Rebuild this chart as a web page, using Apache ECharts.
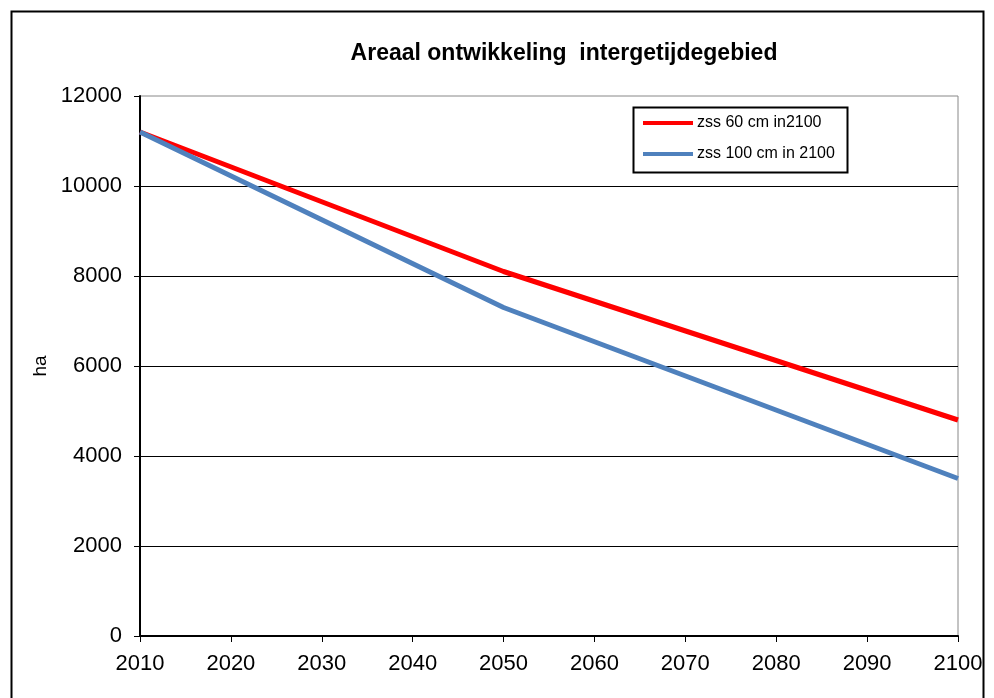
<!DOCTYPE html>
<html><head><meta charset="utf-8">
<script src="https://cdn.jsdelivr.net/npm/echarts@6/dist/echarts.min.js"></script>
<style>html,body{margin:0;padding:0;background:#fff}#c{width:994px;height:698px}</style>
</head><body><div id="c"></div>
<script>
const years = [2010, 2050, 2100];
const zss60 = [11200, 8100, 4800];
const zss100 = [11200, 7300, 3500];
const seriesNames = ['zss 60 cm in2100', 'zss 100 cm in 2100'];
const xTicks = [2010, 2100, 10];
const yTicks = [0, 12000, 2000];

const chart = echarts.init(document.getElementById('c'));
const font = 'Liberation Sans, Arial, sans-serif';
chart.setOption({
  animation: false,
  title: { text: 'Areaal ontwikkeling  intergetijdegebied', left: 559, top: 37, textAlign: 'center',
    textStyle: { fontFamily: font, fontSize: 23, fontWeight: 'bold', color: '#000' } },
  grid: { left: 140, right: 36, top: 96, bottom: 62, show: true, borderColor: '#888', borderWidth: 1, backgroundColor: 'transparent' },
  legend: { show: false },
  graphic: [
    { type: 'rect', shape: { x: 11.5, y: 11.5, width: 972, height: 720 }, style: { fill: 'none', stroke: '#000', lineWidth: 2 }, z: -1 },
    { type: 'rect', shape: { x: 633.5, y: 107.5, width: 214, height: 65 }, style: { fill: '#fff', stroke: '#000', lineWidth: 2 }, z: 10 },
    { type: 'line', shape: { x1: 643, y1: 123, x2: 693, y2: 123 }, style: { stroke: '#FF0000', lineWidth: 4 }, z: 11 },
    { type: 'text', style: { x: 697, y: 123, text: seriesNames[0], font: '16px ' + font, fill: '#000', textVerticalAlign: 'middle' }, z: 11 },
    { type: 'line', shape: { x1: 643, y1: 154, x2: 693, y2: 154 }, style: { stroke: '#4F81BD', lineWidth: 4 }, z: 11 },
    { type: 'text', style: { x: 697, y: 154, text: seriesNames[1], font: '16px ' + font, fill: '#000', textVerticalAlign: 'middle' }, z: 11 }
  ],
  xAxis: {
    type: 'value', min: xTicks[0], max: xTicks[1], interval: xTicks[2],
    axisLine: { lineStyle: { color: '#000', width: 2 } },
    axisTick: { show: true, length: 6, lineStyle: { color: '#000' } },
    axisLabel: { fontFamily: font, fontSize: 22, color: '#000', margin: 17, formatter: v => String(v) },
    splitLine: { show: false }
  },
  yAxis: {
    type: 'value', min: yTicks[0], max: yTicks[1], interval: yTicks[2],
    name: 'ha', nameLocation: 'middle', nameGap: 90, nameRotate: 90,
    nameTextStyle: { fontFamily: font, fontSize: 19, color: '#000' },
    axisLine: { show: true, lineStyle: { color: '#000', width: 2 } },
    axisTick: { show: true, length: 6, lineStyle: { color: '#000' } },
    axisLabel: { fontFamily: font, fontSize: 22, color: '#000', margin: 18, formatter: v => String(v) },
    splitLine: { show: true, showMaxLine: false, lineStyle: { color: '#000', width: 1 } }
  },
  series: [
    { name: seriesNames[0], type: 'line', data: years.map((y, i) => [y, zss60[i]]), showSymbol: false,
      lineStyle: { color: '#FF0000', width: 5 }, itemStyle: { color: '#FF0000' }, z: 3 },
    { name: seriesNames[1], type: 'line', data: years.map((y, i) => [y, zss100[i]]), showSymbol: false,
      lineStyle: { color: '#4F81BD', width: 5 }, itemStyle: { color: '#4F81BD' }, z: 4 }
  ]
});
</script></body></html>
